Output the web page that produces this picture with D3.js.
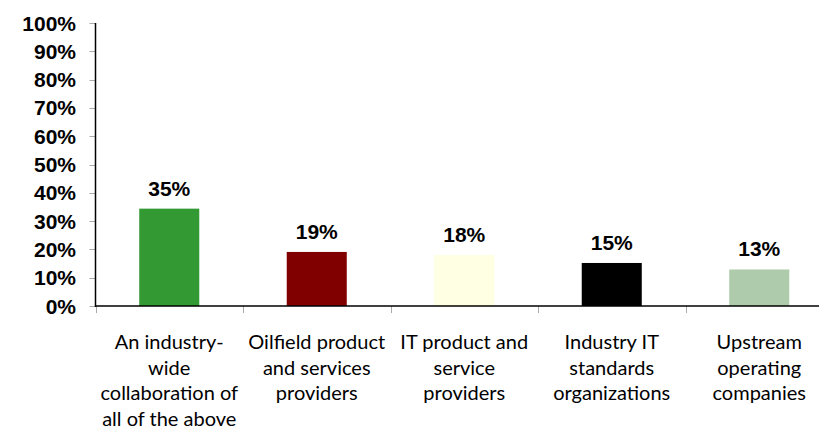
<!DOCTYPE html>
<html>
<head>
<meta charset="utf-8">
<script src="https://cdn.jsdelivr.net/npm/d3@7"></script>
<style>
body { margin: 0; background: #fff; }
</style>
</head>
<body>
<script>
var categories = [
    ["An industry-", "wide", "collaboration of", "all of the above"],
    ["Oilfield product", "and services", "providers"],
    ["IT product and", "service", "providers"],
    ["Industry IT", "standards", "organizations"],
    ["Upstream", "operating", "companies"]
];
var values = [34.4, 19.1, 18.0, 15.2, 12.9];
var valueLabels = ["35%", "19%", "18%", "15%", "13%"];
var colors = ["#339933", "#800000", "#ffffe3", "#000000", "#aecbab"];
var yTicks = [0, 10, 20, 30, 40, 50, 60, 70, 80, 90, 100];

var w = 819,
    h = 430,
    plotLeft = 95.5,
    plotRight = 833,
    plotTop = 23,
    plotBottom = 306;

var svg = d3.select("body")
    .append("svg")
    .attr("width", w)
    .attr("height", h);

var x = d3.scaleBand()
    .domain(d3.range(categories.length))
    .range([plotLeft, plotRight])
    .paddingInner(0.593)
    .paddingOuter(0.2965);

var y = d3.scaleLinear()
    .domain([0, 100])
    .range([plotBottom, plotTop]);

// y ticks and labels
svg.selectAll(".ytick")
    .data(yTicks)
    .enter()
    .append("line")
    .attr("x1", plotLeft - 6)
    .attr("x2", plotLeft)
    .attr("y1", function (d) { return Math.round(y(d)) + 0.5; })
    .attr("y2", function (d) { return Math.round(y(d)) + 0.5; })
    .attr("stroke", "#aaa");

svg.selectAll(".ylab")
    .data(yTicks)
    .enter()
    .append("text")
    .text(function (d) { return d + "%"; })
    .attr("x", 76)
    .attr("y", function (d) { return y(d) + 7.5; })
    .attr("text-anchor", "end")
    .attr("font-family", "Liberation Sans, Arial, sans-serif")
    .attr("font-weight", "bold")
    .attr("font-size", "21px")
    .attr("fill", "#000");

// bottom ticks at band boundaries
var step = x.step();
svg.selectAll(".xtick")
    .data(d3.range(categories.length + 1))
    .enter()
    .append("line")
    .attr("x1", function (d) { return Math.round(plotLeft + d * step) + 0.5; })
    .attr("x2", function (d) { return Math.round(plotLeft + d * step) + 0.5; })
    .attr("y1", plotBottom)
    .attr("y2", plotBottom + 7)
    .attr("stroke", "#aaa");

// bars
svg.selectAll("rect")
    .data(values)
    .enter()
    .append("rect")
    .attr("x", function (d, i) { return x(i); })
    .attr("y", function (d) { return y(d); })
    .attr("width", x.bandwidth())
    .attr("height", function (d) { return plotBottom - y(d); })
    .attr("fill", function (d, i) { return colors[i]; });

// axes lines
svg.append("line")
    .attr("x1", plotLeft).attr("x2", plotLeft)
    .attr("y1", plotTop).attr("y2", plotBottom + 1)
    .attr("stroke", "#000").attr("stroke-width", 1.5);
svg.append("line")
    .attr("x1", plotLeft).attr("x2", w)
    .attr("y1", plotBottom).attr("y2", plotBottom)
    .attr("stroke", "#000").attr("stroke-width", 1.5);

// value labels
svg.selectAll(".vlab")
    .data(values)
    .enter()
    .append("text")
    .text(function (d, i) { return valueLabels[i]; })
    .attr("x", function (d, i) { return x(i) + x.bandwidth() / 2; })
    .attr("y", function (d) { return y(d) - 13; })
    .attr("text-anchor", "middle")
    .attr("font-family", "Liberation Sans, Arial, sans-serif")
    .attr("font-weight", "bold")
    .attr("font-size", "21px")
    .attr("fill", "#000");

// category labels
var cat = svg.selectAll(".cat")
    .data(categories)
    .enter()
    .append("text")
    .attr("text-anchor", "middle")
    .attr("font-family", "Lato, sans-serif")
    .attr("font-size", "20px")
    .attr("fill", "#000");

cat.selectAll("tspan")
    .data(function (d, i) { return d.map(function (s) { return { s: s, i: i }; }); })
    .enter()
    .append("tspan")
    .attr("x", function (d) { return x(d.i) + x.bandwidth() / 2; })
    .attr("y", function (d, j) { return 349 + j * 25.5; })
    .text(function (d) { return d.s; });
</script>
</body>
</html>
